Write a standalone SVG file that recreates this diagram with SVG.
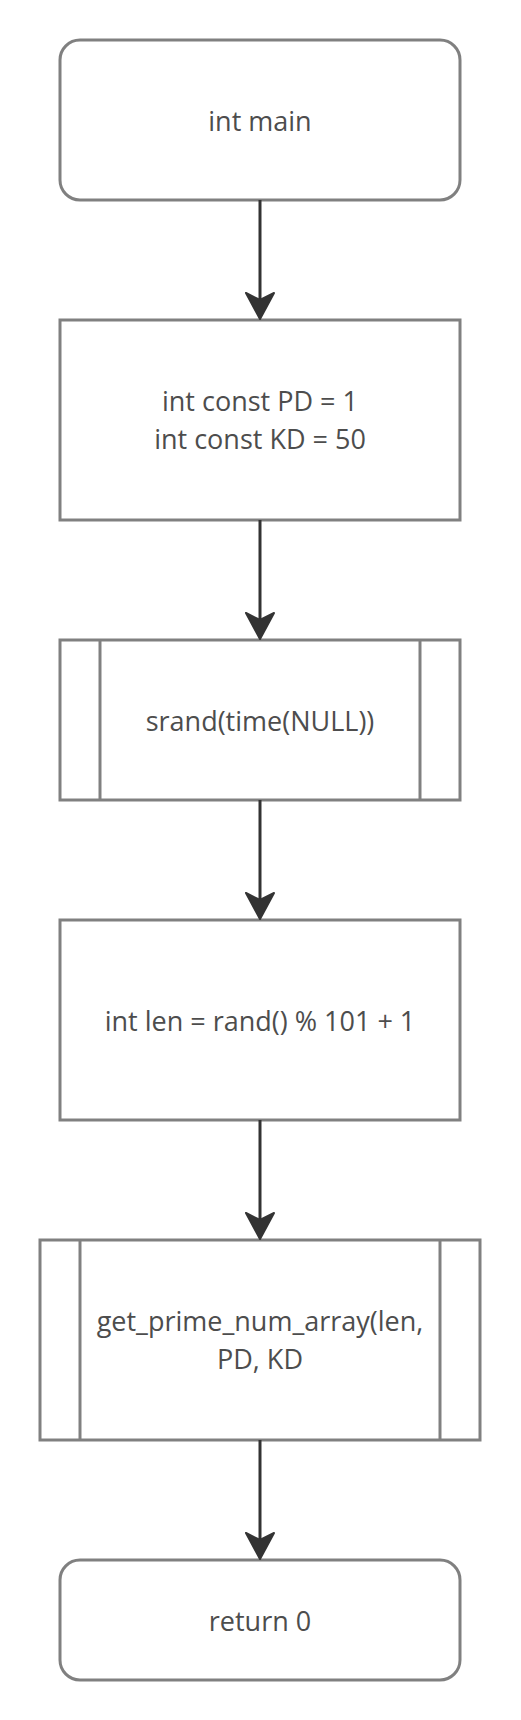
<svg xmlns="http://www.w3.org/2000/svg" width="521" height="1720" viewBox="0 0 521 1720">
<defs>
<style>
.box{fill:#fff;stroke:#808080;stroke-width:3}
.ln{fill:none;stroke:#808080;stroke-width:3}
.t{font-family:"Open Sans","Noto Sans",sans-serif;font-size:27px;fill:#4d4d4d;text-anchor:middle}
.edge{fill:none;stroke:#333;stroke-width:3}
.head{fill:#333;stroke:#333;stroke-width:2;stroke-linejoin:round}
</style>
</defs>
<rect width="521" height="1720" fill="#fff"/>
<g id="n1"><rect class="box" x="60" y="40" width="400" height="160" rx="20"/><text class="t" x="260" y="130.5">int main</text></g>
<g id="n2"><rect class="box" x="60" y="320" width="400" height="200"/><text class="t" x="260" y="410.5">int const PD = 1</text><text class="t" x="260" y="448.5">int const KD = 50</text></g>
<g id="n3"><rect class="box" x="60" y="640" width="400" height="160"/><line class="ln" x1="100" y1="640" x2="100" y2="800"/><line class="ln" x1="420" y1="640" x2="420" y2="800"/><text class="t" x="260" y="730.5">srand(time(NULL))</text></g>
<g id="n4"><rect class="box" x="60" y="920" width="400" height="200"/><text class="t" x="260" y="1030.5">int len = rand() % 101 + 1</text></g>
<g id="n5"><rect class="box" x="40" y="1240" width="440" height="200"/><line class="ln" x1="80" y1="1240" x2="80" y2="1440"/><line class="ln" x1="440" y1="1240" x2="440" y2="1440"/><text class="t" x="260" y="1330.5">get_prime_num_array(len,</text><text class="t" x="260" y="1368.5">PD, KD</text></g>
<g id="n6"><rect class="box" x="60" y="1560" width="400" height="120" rx="20"/><text class="t" x="260" y="1630.5">return 0</text></g>
<g id="edges">
<line class="edge" x1="260" y1="200" x2="260" y2="305"/><path class="head" d="M260,319 L246,293 L260,300 L274,293 Z"/>
<line class="edge" x1="260" y1="520" x2="260" y2="625"/><path class="head" d="M260,639 L246,613 L260,620 L274,613 Z"/>
<line class="edge" x1="260" y1="800" x2="260" y2="905"/><path class="head" d="M260,919 L246,893 L260,900 L274,893 Z"/>
<line class="edge" x1="260" y1="1120" x2="260" y2="1225"/><path class="head" d="M260,1239 L246,1213 L260,1220 L274,1213 Z"/>
<line class="edge" x1="260" y1="1440" x2="260" y2="1545"/><path class="head" d="M260,1559 L246,1533 L260,1540 L274,1533 Z"/>
</g>
</svg>
